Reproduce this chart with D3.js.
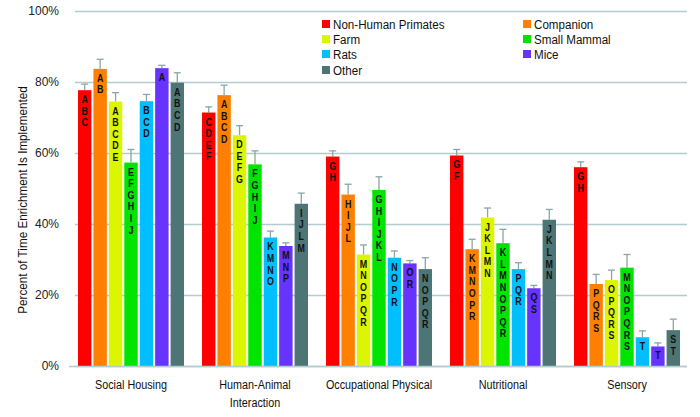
<!DOCTYPE html>
<html><head><meta charset="utf-8">
<script src="https://cdn.jsdelivr.net/npm/d3@7"></script>
<style>
body{margin:0;background:#fff;}
text{font-family:"Liberation Sans",Arial,sans-serif;}
</style></head>
<body><svg id="c" width="700" height="417"></svg>
<script>
const categories = ["Social Housing", "Human-Animal Interaction", "Occupational Physical", "Nutritional", "Sensory"];
const categoryLines = [["Social Housing"], ["Human-Animal", "Interaction"], ["Occupational Physical"], ["Nutritional"], ["Sensory"]];
const seriesNames = ["Non-Human Primates", "Companion", "Farm", "Small Mammal", "Rats", "Mice", "Other"];
const seriesColors = ["#ff0000", "#ff8000", "#dcf500", "#00e400", "#00bfff", "#6633ff", "#4d7575"];
// values per series, across categories (percent)
const nonHumanPrimates = [77.7, 71.4, 59.0, 59.3, 56.0];
const companion        = [83.7, 76.3, 48.3, 32.9, 23.1];
const farm             = [74.5, 65.0, 31.4, 41.8, 24.2];
const smallMammal      = [57.3, 56.8, 49.6, 34.6, 27.7];
const rats             = [74.6, 36.2, 30.5, 27.3, 8.1];
const mice             = [83.9, 33.8, 28.9, 21.9, 5.5];
const other            = [79.8, 45.7, 27.3, 41.2, 10.1];
// standard error (upper bar length, percent)
const errNHP   = [1.7, 1.6, 1.6, 1.7, 1.5];
const errComp  = [2.7, 2.8, 2.9, 2.8, 2.7];
const errFarm  = [2.5, 2.7, 2.7, 2.7, 2.8];
const errSM    = [3.7, 3.8, 3.7, 3.9, 3.7];
const errRats  = [1.9, 1.8, 1.9, 1.8, 1.8];
const errMice  = [0.8, 0.9, 0.8, 0.8, 1.0];
const errOther = [2.8, 3.0, 3.2, 2.9, 3.1];
// significance letters
const lettersNHP   = ["ABC", "CDEF", "GH", "GF", "GH"];
const lettersComp  = ["AB", "ABCD", "HIJL", "KMNOPR", "PQRS"];
const lettersFarm  = ["ABCDE", "DEFG", "MNOPQR", "JKLMN", "OPQRS"];
const lettersSM    = ["EFGHIJ", "FGHIJ", "GHIJKL", "KLMNOPQR", "MNOPQRS"];
const lettersRats  = ["BCD", "KMNO", "NOPR", "PQR", "T"];
const lettersMice  = ["A", "MNP", "OR", "QS", "T"];
const lettersOther = ["ABCD", "IJLM", "NOPQR", "JKLMN", "ST"];
const yTicks = [0, 20, 40, 60, 80, 100];

const values = [nonHumanPrimates, companion, farm, smallMammal, rats, mice, other];
const errs = [errNHP, errComp, errFarm, errSM, errRats, errMice, errOther];
const letters = [lettersNHP, lettersComp, lettersFarm, lettersSM, lettersRats, lettersMice, lettersOther];

const svg = d3.select("#c");
const y = d3.scaleLinear().domain([0, 100]).range([366, 11]);
const x0 = d3.scaleBand().domain(categories).range([69, 689]).paddingInner(0.145).paddingOuter(0.0725);
const x1 = d3.scaleBand().domain(seriesNames).range([0, x0.bandwidth()]).paddingInner(0.13);

// gridlines
const yAxis = d3.axisLeft(y).tickValues(yTicks).tickFormat(d => d + "%").tickSize(-(687 - 69)).tickPadding(10);
const ga = svg.append("g").attr("transform", "translate(69,0)").call(yAxis);
ga.select(".domain").remove();
ga.selectAll(".tick line").attr("stroke", "#b3cccf").attr("stroke-width", 1.3).attr("x1", 6);
ga.selectAll(".tick text").attr("font-size", 12).attr("fill", "#222");

// legend entries
const leg = svg.append("g");
const legItems = [
  {i:0, x:322, y:24}, {i:1, x:523, y:24},
  {i:2, x:322, y:39}, {i:3, x:523, y:39},
  {i:4, x:322, y:54}, {i:5, x:523, y:54},
  {i:6, x:322, y:70}
];
legItems.forEach(d => {
  leg.append("rect").attr("x", d.x).attr("y", d.y - 4).attr("width", 8).attr("height", 8).attr("fill", seriesColors[d.i]);
  leg.append("text").attr("transform", `translate(${d.x + 11},${d.y}) scale(0.86,1)`).attr("dy", "0.36em")
    .attr("font-size", 13.5).attr("fill", "#111").text(seriesNames[d.i]);
});

// bars
const groups = svg.append("g").selectAll("g").data(categories).join("g")
  .attr("transform", c => `translate(${x0(c)},0)`);
groups.each(function(c, ci) {
  const g = d3.select(this);
  seriesNames.forEach((s, si) => {
    const v = values[si][ci], e = errs[si][ci];
    const bx = x1(s), bw = x1.bandwidth();
    const cx = bx + bw / 2;
    g.append("line").attr("x1", cx).attr("x2", cx).attr("y1", y(v)).attr("y2", y(v + e))
      .attr("stroke", "#8aa5a8").attr("stroke-width", 1.3);
    g.append("line").attr("x1", cx - 3.5).attr("x2", cx + 3.5).attr("y1", y(v + e)).attr("y2", y(v + e))
      .attr("stroke", "#8aa5a8").attr("stroke-width", 1.3);
    g.append("rect").attr("x", bx).attr("y", y(v)).attr("width", bw).attr("height", y(0) - y(v))
      .attr("fill", seriesColors[si]);
    letters[si][ci].split("").forEach((L, li) => {
      g.append("text").attr("transform", `translate(${cx},${y(v) + 13 + li * 11.6}) scale(0.85,1)`)
        .attr("text-anchor", "middle").attr("font-size", 10.5).attr("font-weight", "bold")
        .attr("fill", "#111").text(L);
    });
  });
});

// baseline
svg.append("line").attr("x1", 69).attr("x2", 687).attr("y1", 366.5).attr("y2", 366.5)
  .attr("stroke", "#b3cccf").attr("stroke-width", 1.3);

// category labels
categories.forEach((c, ci) => {
  const cx = x0(c) + x0.bandwidth() / 2;
  categoryLines[ci].forEach((ln, li) => {
    svg.append("text").attr("transform", `translate(${cx},${389 + li * 17.5}) scale(0.8,1)`)
      .attr("text-anchor", "middle").attr("font-size", 13.5).attr("fill", "#111").text(ln);
  });
});

// y-axis title
svg.append("text").attr("transform", "translate(27,200) rotate(-90) scale(0.9,1)").attr("text-anchor", "middle")
  .attr("font-size", 13).attr("fill", "#111").text("Percent of Time Enrichment Is Implemented");
</script></body></html>
